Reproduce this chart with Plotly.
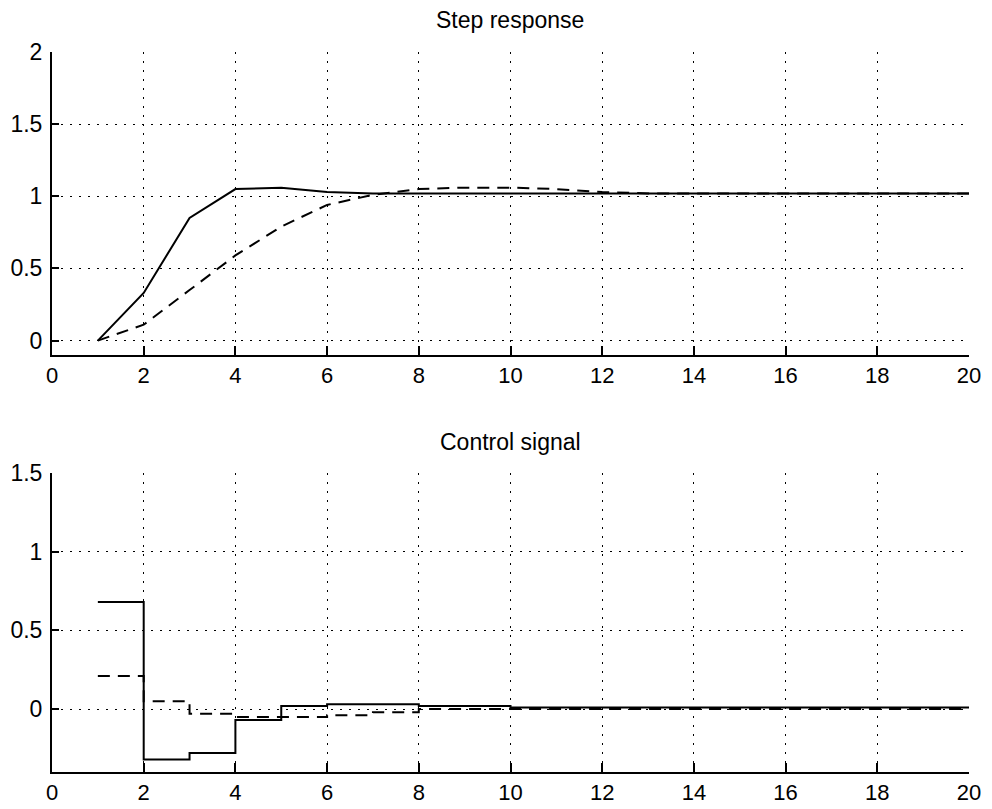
import plotly.graph_objects as go

# Step response data (sample k = 1..20)
t = list(range(1, 21))
y_solid = [0.0, 0.33, 0.85, 1.05, 1.06, 1.03, 1.02, 1.02, 1.02, 1.02,
           1.02, 1.02, 1.02, 1.02, 1.02, 1.02, 1.02, 1.02, 1.02, 1.02]
y_dashed = [0.0, 0.11, 0.35, 0.59, 0.79, 0.94, 1.01, 1.05, 1.06, 1.06,
            1.05, 1.03, 1.02, 1.02, 1.02, 1.02, 1.02, 1.02, 1.02, 1.02]

# Control signal data
u_solid = [0.68, -0.32, -0.28, -0.07, 0.02, 0.03, 0.03, 0.02, 0.02, 0.01,
           0.01, 0.01, 0.01, 0.01, 0.01, 0.01, 0.01, 0.01, 0.01, 0.01]
u_dashed = [0.21, 0.05, -0.03, -0.05, -0.05, -0.04, -0.02, 0.0, 0.0, 0.0,
            0.0, 0.0, 0.0, 0.0, 0.0, 0.0, 0.0, 0.0, 0.0, 0.0]

x_ticks = [0, 2, 4, 6, 8, 10, 12, 14, 16, 18, 20]
top_yticks = [0, 0.5, 1, 1.5, 2]
bot_yticks = [0, 0.5, 1, 1.5]

FONT = "Liberation Sans, Arial, Helvetica, sans-serif"
LINE_W = 2
DASH = "12px,8px"
GRID_DASH = "2px,7px"

fig = go.Figure()
fig.add_trace(go.Scatter(x=t, y=y_solid, mode="lines", line=dict(color="black", width=LINE_W),
                         xaxis="x", yaxis="y", showlegend=False))
fig.add_trace(go.Scatter(x=t, y=y_dashed, mode="lines", line=dict(color="black", width=LINE_W, dash=DASH),
                         xaxis="x", yaxis="y", showlegend=False))
fig.add_trace(go.Scatter(x=t, y=u_solid, mode="lines", line=dict(color="black", width=LINE_W, shape="hv"),
                         xaxis="x2", yaxis="y2", showlegend=False))
fig.add_trace(go.Scatter(x=t, y=u_dashed, mode="lines", line=dict(color="black", width=LINE_W, dash=DASH, shape="hv"),
                         xaxis="x2", yaxis="y2", showlegend=False))

def xax(anchor):
    return dict(domain=[52/992, 969/992], range=[0, 20], anchor=anchor, automargin=False,
                tickvals=x_ticks, ticks="inside", ticklen=9, tickwidth=2, tickcolor="black",
                showline=True, linecolor="black", linewidth=2, mirror=False,
                showgrid=True, gridcolor="black", gridwidth=1, griddash=GRID_DASH,
                zeroline=False, tickfont=dict(family=FONT, size=22, color="black"),
                ticklabelstandoff=0)

def yax(anchor, dom, rng, vals):
    return dict(domain=dom, range=rng, anchor=anchor, automargin=False,
                tickvals=vals, ticks="inside", ticklen=7, tickwidth=2, tickcolor="black",
                showline=True, linecolor="black", linewidth=2, mirror=False,
                showgrid=True, gridcolor="black", gridwidth=1, griddash=GRID_DASH,
                zeroline=False, tickfont=dict(family=FONT, size=23, color="black"),
                ticklabelstandoff=3)

fig.update_layout(
    width=992, height=809,
    margin=dict(l=0, r=0, t=0, b=0),
    paper_bgcolor="white", plot_bgcolor="white",
    xaxis=xax("y"),
    yaxis=yax("x", [1 - 355/809, 1 - 52/809], [-0.1, 2], top_yticks),
    xaxis2=xax("y2"),
    yaxis2=yax("x2", [1 - 772/809, 1 - 473/809], [-0.4, 1.5], bot_yticks),
    annotations=[
        dict(text="Step response", x=510/992, y=1 - 20/809, xref="paper", yref="paper",
             showarrow=False, font=dict(family=FONT, size=23, color="black"),
             xanchor="center", yanchor="middle"),
        dict(text="Control signal", x=510/992, y=1 - 442/809, xref="paper", yref="paper",
             showarrow=False, font=dict(family=FONT, size=23, color="black"),
             xanchor="center", yanchor="middle"),
    ],
)

fig.write_html("out.html")
